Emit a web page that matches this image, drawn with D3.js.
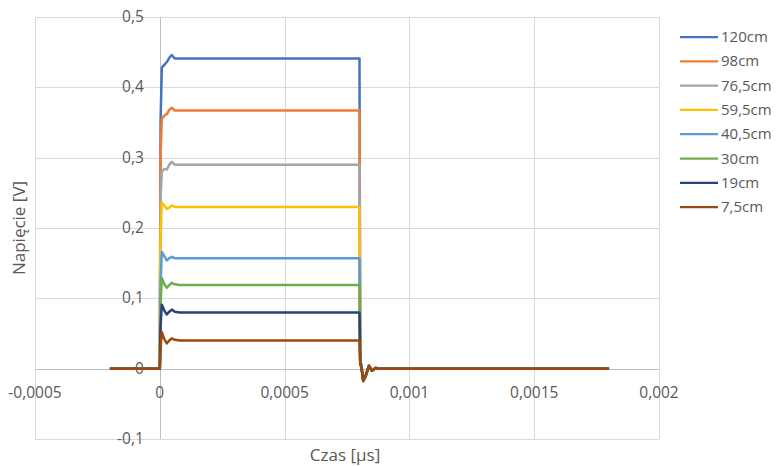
<!DOCTYPE html>
<html>
<head>
<meta charset="utf-8">
<script src="https://cdn.jsdelivr.net/npm/d3@7"></script>
<style>
  html, body { margin: 0; padding: 0; background: #fff; }
  svg { display: block; font-family: "Open Sans", "Liberation Sans", sans-serif; }
  .grid line { stroke: #d9d9d9; stroke-width: 1; }
  .tick-label { fill: #595959; font-size: 15.5px; }
  .axis-title { fill: #595959; font-size: 17px; }
  .legend text { fill: #595959; font-size: 15px; }
</style>
</head>
<body>
<div id="chart"></div>
<script>
// series, top to bottom in the legend
const seriesNames = [`120cm`, `98cm`, `76,5cm`, `59,5cm`, `40,5cm`, `30cm`, `19cm`, `7,5cm`];
const seriesColors = [`#4472c4`, `#ed7d31`, `#a5a5a5`, `#ffc000`, `#5b9bd5`, `#70ad47`, `#264478`, `#9e480e`];

// sample times (s) shared by every series
const times = [-0.0002, 0, 0.000003, 0.000008, 0.000018, 0.000028, 0.000038, 0.000048, 0.00006, 0.00008,
  0.0008, 0.000803, 0.000808, 0.000815, 0.000825, 0.000838, 0.00085, 0.000865, 0.00088, 0.0018];

// voltages (V)
const v120 = [0, 0, 0.35, 0.428, 0.432, 0.436, 0.442, 0.446, 0.441, 0.441, 0.441, 0.012, 0.004, -0.015, -0.009, 0.004, -0.002, 0.001, 0, 0];
const v98 = [0, 0, 0.30, 0.355, 0.360, 0.362, 0.368, 0.371, 0.367, 0.367, 0.367, 0.011, 0.004, -0.015, -0.009, 0.004, -0.002, 0.001, 0, 0];
const v765 = [0, 0, 0.24, 0.280, 0.284, 0.283, 0.290, 0.294, 0.290, 0.290, 0.290, 0.010, 0.003, -0.016, -0.010, 0.004, -0.003, 0.001, 0, 0];
const v595 = [0, 0, 0.18, 0.236, 0.232, 0.227, 0.229, 0.232, 0.230, 0.230, 0.230, 0.010, 0.003, -0.016, -0.010, 0.004, -0.003, 0.001, 0, 0];
const v405 = [0, 0, 0.12, 0.166, 0.160, 0.154, 0.157, 0.159, 0.157, 0.157, 0.157, 0.010, 0.003, -0.016, -0.010, 0.004, -0.003, 0.001, 0, 0];
const v30 = [0, 0, 0.09, 0.129, 0.120, 0.115, 0.119, 0.122, 0.120, 0.119, 0.119, 0.009, 0.002, -0.017, -0.010, 0.004, -0.003, 0.001, 0, 0];
const v19 = [0, 0, 0.06, 0.091, 0.083, 0.077, 0.081, 0.084, 0.081, 0.080, 0.080, 0.008, 0.002, -0.017, -0.010, 0.004, -0.003, 0.001, 0, 0];
const v75 = [0, 0, 0.03, 0.052, 0.042, 0.036, 0.040, 0.043, 0.041, 0.040, 0.040, 0.006, 0.001, -0.018, -0.011, 0.004, -0.003, 0.001, 0, 0];
const seriesValues = [v120, v98, v765, v595, v405, v30, v19, v75];

const xTicks = [-0.0005, 0, 0.0005, 0.001, 0.0015, 0.002];
const yTicks = [-0.1, 0, 0.1, 0.2, 0.3, 0.4, 0.5];

const width = 778;
const height = 466;
const plot = { left: 35, right: 659, top: 17, bottom: 439 };

const fmt = (d) => String(+d.toFixed(4)).replace(`.`, `,`);

const x = d3.scaleLinear().domain([-0.0005, 0.002]).range([plot.left, plot.right]);
const y = d3.scaleLinear().domain([-0.1, 0.5]).range([plot.bottom, plot.top]);

const svg = d3.select(`#chart`).append(`svg`)
    .attr(`width`, width)
    .attr(`height`, height);

// gridlines
const grid = svg.append(`g`).attr(`class`, `grid`);
grid.selectAll(`.gx`)
    .data(xTicks)
  .enter().append(`line`)
    .attr(`x1`, (d) => Math.round(x(d)) + 0.5)
    .attr(`x2`, (d) => Math.round(x(d)) + 0.5)
    .attr(`y1`, plot.top)
    .attr(`y2`, plot.bottom);
grid.selectAll(`.gy`)
    .data(yTicks)
  .enter().append(`line`)
    .attr(`x1`, plot.left)
    .attr(`x2`, plot.right)
    .attr(`y1`, (d) => Math.round(y(d)) + 0.5)
    .attr(`y2`, (d) => Math.round(y(d)) + 0.5);

// axis lines through zero
svg.append(`line`)
    .attr(`x1`, Math.round(x(0)) + 0.5).attr(`x2`, Math.round(x(0)) + 0.5)
    .attr(`y1`, plot.top).attr(`y2`, plot.bottom)
    .attr(`stroke`, `#bfbfbf`);
svg.append(`line`)
    .attr(`x1`, plot.left).attr(`x2`, plot.right)
    .attr(`y1`, Math.round(y(0)) + 0.5).attr(`y2`, Math.round(y(0)) + 0.5)
    .attr(`stroke`, `#bfbfbf`);

// tick labels
svg.selectAll(`.xl`)
    .data(xTicks)
  .enter().append(`text`)
    .attr(`class`, `tick-label`)
    .attr(`x`, (d) => x(d))
    .attr(`y`, y(0) + 29)
    .attr(`text-anchor`, `middle`)
    .text(fmt);
svg.selectAll(`.yl`)
    .data(yTicks)
  .enter().append(`text`)
    .attr(`class`, `tick-label`)
    .attr(`x`, x(0) - 16)
    .attr(`y`, (d) => y(d) + 5)
    .attr(`text-anchor`, `end`)
    .text(fmt);

// series, drawn so that 7,5cm ends up on top
const line = d3.line()
    .x((d) => x(d[0]))
    .y((d) => y(d[1]));

svg.append(`g`).selectAll(`path`)
    .data(seriesValues.map((vals, i) => ({ i, pts: times.map((t, k) => [t, vals[k]]) })))
  .enter().append(`path`)
    .attr(`d`, (d) => line(d.pts))
    .attr(`fill`, `none`)
    .attr(`stroke`, (d) => seriesColors[d.i])
    .attr(`stroke-width`, 2.5)
    .attr(`stroke-linejoin`, `round`);

// axis titles
svg.append(`text`)
    .attr(`class`, `axis-title`)
    .attr(`x`, 345)
    .attr(`y`, 461)
    .attr(`text-anchor`, `middle`)
    .text(`Czas [µs]`);
svg.append(`text`)
    .attr(`class`, `axis-title`)
    .attr(`transform`, `translate(25,228) rotate(-90)`)
    .attr(`text-anchor`, `middle`)
    .text(`Napięcie [V]`);

// legend
const legend = svg.append(`g`).attr(`class`, `legend`)
  .selectAll(`g`)
    .data(seriesNames)
  .enter().append(`g`)
    .attr(`transform`, (d, i) => `translate(680,${37 + i * 24.3})`);
legend.append(`line`)
    .attr(`x1`, 0).attr(`x2`, 38)
    .attr(`stroke`, (d, i) => seriesColors[i])
    .attr(`stroke-width`, 2.25);
legend.append(`text`)
    .attr(`x`, 41)
    .attr(`y`, 5)
    .text((d) => d);
</script>
</body>
</html>
